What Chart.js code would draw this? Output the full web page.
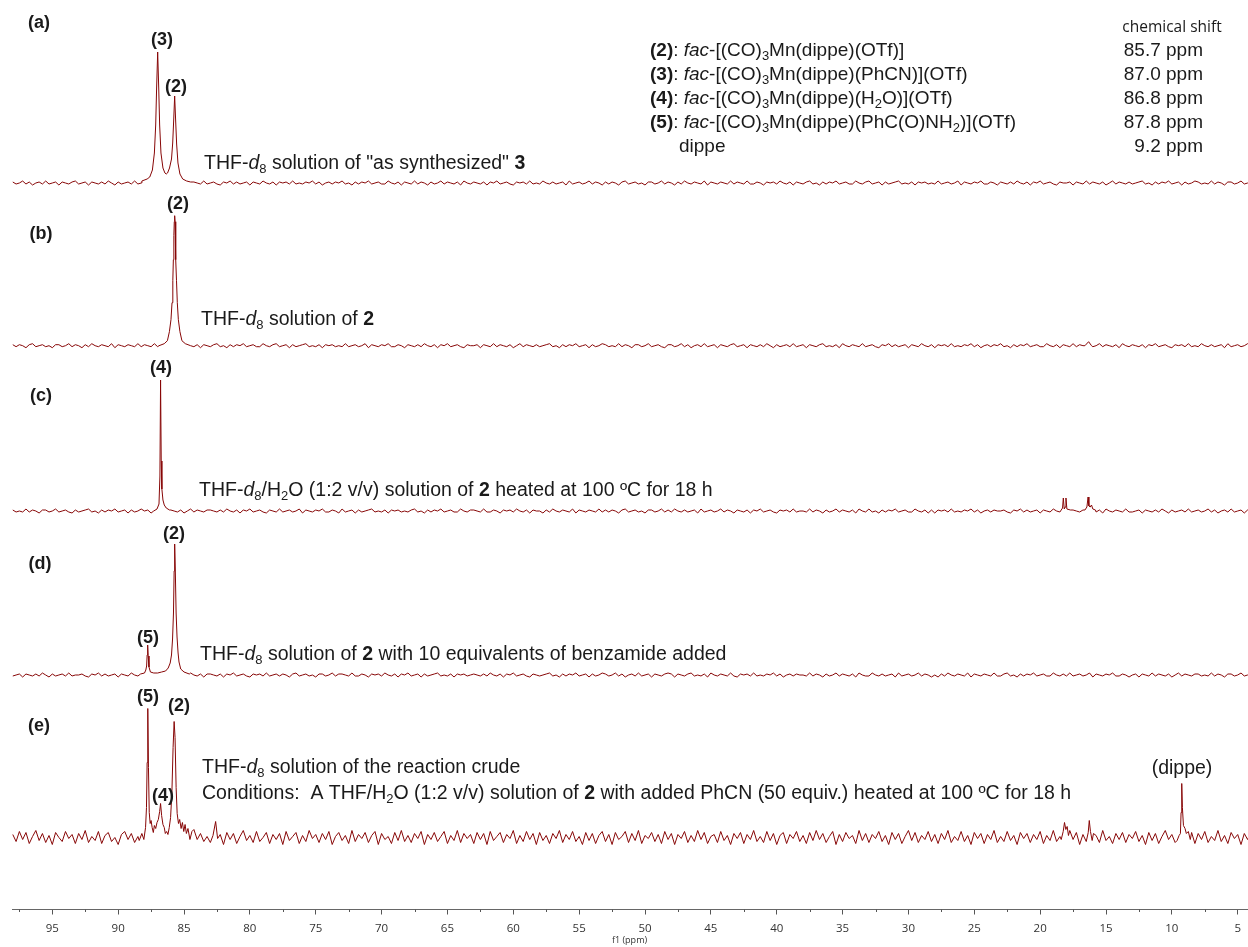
<!DOCTYPE html>
<html>
<head>
<meta charset="utf-8">
<script src="https://cdn.jsdelivr.net/npm/chart.js@4.4.1/dist/chart.umd.min.js"></script>
<style>
  html, body { margin: 0; padding: 0; background: #fff; }
  #wrap { width: 1248px; height: 947px; position: relative; }
</style>
</head>
<body>
<div id="wrap"><canvas id="nmrChart"></canvas></div>
<script>
// ppm grid of the baseline (noise) samples
const ppmStart = 98.0;
const ppmStep = 0.25;

const majorTicks = [95, 90, 85, 80, 75, 70, 65, 60, 55, 50, 45, 40, 35, 30, 25, 20, 15, 10, 5];
const minorTicks = [97.5, 92.5, 87.5, 82.5, 77.5, 72.5, 67.5, 62.5, 57.5, 52.5, 47.5, 42.5, 37.5, 32.5, 27.5, 22.5, 17.5, 12.5, 7.5];

// baseline noise (intensity units)
const noiseA = [
  1,-1,0,2,-1,1,-2,0,1,-1,2,-1,0,1,-2,1,0,-1,1,2,
  -1,0,1,-2,1,0,-1,1,-1,2,0,-2,1,-1,0,1,-1,2,-1,0,
  1,-2,1,0,-1,1,2,-1,0,-1,1,-2,2,0,-1,1,0,-1,2,-1,
  0,1,-1,-2,1,0,2,-1,1,-1,0,1,-2,1,0,-1,2,0,-1,1,
  -2,1,0,1,-1,2,-1,0,-1,1,0,2,-1,1,-2,0,1,-1,1,0,
  2,-1,0,-2,1,-1,1,0,2,-1,0,1,-1,-1,2,0,-1,1,-2,1,
  0,-1,2,-1,1,0,-2,1,-1,0,2,-1,1,0,-1,1,-2,2,0,-1,
  1,0,-1,1,-2,1,0,2,-1,0,1,-1,-2,1,0,1,-1,2,-1,0,
  -1,2,0,-1,1,-1,0,1,-2,2,-1,0,1,-1,0,2,-1,1,0,-2,
  1,-1,1,0,-2,1,2,-1,0,1,-1,0,-2,1,1,-1,0,2,-1,1,
  0,-2,1,-1,2,0,-1,1,0,-1,2,-2,1,0,-1,1,0,-1,2,-1,
  1,0,-1,2,-1,-1,1,0,-2,1,0,1,-1,2,0,-1,1,-2,1,0,
  -1,1,2,-1,0,-2,1,-1,1,0,2,-1,0,1,-1,-1,2,0,-1,1,
  2,-1,0,1,-2,1,-1,0,1,2,-1,0,-1,1,-2,1,0,1,-1,0,
  -1,2,-1,0,1,-1,0,2,-2,1,0,-1,1,0,2,-1,-1,1,0,-2,
  1,0,-1,1,-1,2,0,-1,1,-2,1,0,2,-1,0,1,-1,-2,1,0,
  0,1,-2,1,0,-1,2,-1,1,0,-1,1,-2,0,2,-1,1,0,-1,1,
  -1,0,1,2,-1,0,-2,1,-1,1,0,2,-1,0,1,-2,1,-1,0,2,
  1,-1,0,-1,2,-1,1,0,-2,1,1,-1,0,2,-1,0,1,-1,-2,1
];
const noiseB = [
  1,-1,1,0,-2,1,2,-1,0,1,-1,0,-2,1,1,-1,0,2,-1,1,
  0,-2,1,-1,2,0,-1,1,0,-1,2,-2,1,0,-1,1,0,-1,2,-1,
  1,0,-1,2,-1,-1,1,0,-2,1,0,1,-1,2,0,-1,1,-2,1,0,
  -1,1,2,-1,0,-2,1,-1,1,0,2,-1,0,1,-1,-1,2,0,-1,1,
  2,-1,0,1,-2,1,-1,0,1,2,-1,0,-1,1,-2,1,0,1,-1,0,
  -1,2,-1,0,1,-1,0,2,-2,1,0,-1,1,0,2,-1,-1,1,0,-2,
  1,0,-1,1,-1,2,0,-1,1,-2,1,0,2,-1,0,1,-1,-2,1,0,
  0,1,-2,1,0,-1,2,-1,1,0,-1,1,-2,0,2,-1,1,0,-1,1,
  -1,0,1,2,-1,0,-2,1,-1,1,0,2,-1,0,1,-2,1,-1,0,2,
  1,-1,0,-1,2,-1,1,0,-2,1,1,-1,0,2,-1,0,1,-1,-2,1,
  1,-1,0,2,-1,1,-2,0,1,-1,2,-1,0,1,-2,1,0,-1,1,2,
  -1,0,1,-2,1,0,-1,1,-1,2,0,-2,1,-1,0,1,-1,2,-1,0,
  1,-2,1,0,-1,1,2,-1,0,-1,1,-2,2,0,-1,1,0,-1,2,-1,
  0,1,-1,-2,1,0,2,-1,1,-1,0,1,-2,1,0,-1,2,0,-1,1,
  -2,1,0,1,-1,2,-1,0,-1,1,0,2,-1,1,-2,0,1,-1,1,0,
  2,-1,0,-2,1,-1,1,0,2,-1,0,1,-1,-1,2,0,-1,1,-2,1,
  0,-1,2,-1,1,0,-2,1,-1,0,2,-1,1,0,-1,1,-2,2,0,-1,
  1,0,-1,1,-2,1,0,2,-1,0,1,-1,-2,1,0,1,-1,2,-1,0,
  -1,2,0,-1,1,-1,0,1,-2,2,-1,0,1,-1,0,2,-1,1,0,-2
];
const noiseC = [
  1,-1,0,-1,2,-1,1,0,-2,1,1,-1,0,2,-1,0,1,-1,-2,1,
  -1,0,1,2,-1,0,-2,1,-1,1,0,2,-1,0,1,-2,1,-1,0,2,
  0,1,-2,1,0,-1,2,-1,1,0,-1,1,-2,0,2,-1,1,0,-1,1,
  1,0,-1,1,-1,2,0,-1,1,-2,1,0,2,-1,0,1,-1,-2,1,0,
  -1,2,-1,0,1,-1,0,2,-2,1,0,-1,1,0,2,-1,-1,1,0,-2,
  2,-1,0,1,-2,1,-1,0,1,2,-1,0,-1,1,-2,1,0,1,-1,0,
  -1,1,2,-1,0,-2,1,-1,1,0,2,-1,0,1,-1,-1,2,0,-1,1,
  1,0,-1,2,-1,-1,1,0,-2,1,0,1,-1,2,0,-1,1,-2,1,0,
  0,-2,1,-1,2,0,-1,1,0,-1,2,-2,1,0,-1,1,0,-1,2,-1,
  1,-1,1,0,-2,1,2,-1,0,1,-1,0,-2,1,1,-1,0,2,-1,1,
  -1,2,0,-1,1,-1,0,1,-2,2,-1,0,1,-1,0,2,-1,1,0,-2,
  1,0,-1,1,-2,1,0,2,-1,0,1,-1,-2,1,0,1,-1,2,-1,0,
  0,-1,2,-1,1,0,-2,1,-1,0,2,-1,1,0,-1,1,-2,2,0,-1,
  2,-1,0,-2,1,-1,1,0,2,-1,0,1,-1,-1,2,0,-1,1,-2,1,
  -2,1,0,1,-1,2,-1,0,-1,1,0,2,-1,1,-2,0,1,-1,1,0,
  0,1,-1,-2,1,0,2,-1,1,-1,0,1,-2,1,0,-1,2,0,-1,1,
  1,-2,1,0,-1,1,2,-1,0,-1,1,-2,2,0,-1,1,0,-1,2,-1,
  -1,0,1,-2,1,0,-1,1,-1,2,0,-2,1,-1,0,1,-1,2,-1,0,
  1,-1,0,2,-1,1,-2,0,1,-1,2,-1,0,1,-2,1,0,-1,1,2
];
const noiseD = [
  -1,0,1,-2,1,0,-1,1,-1,2,0,-2,1,-1,0,1,-1,2,-1,0,
  0,1,-1,-2,1,0,2,-1,1,-1,0,1,-2,1,0,-1,2,0,-1,1,
  2,-1,0,-2,1,-1,1,0,2,-1,0,1,-1,-1,2,0,-1,1,-2,1,
  1,0,-1,1,-2,1,0,2,-1,0,1,-1,-2,1,0,1,-1,2,-1,0,
  1,-1,1,0,-2,1,2,-1,0,1,-1,0,-2,1,1,-1,0,2,-1,1,
  1,0,-1,2,-1,-1,1,0,-2,1,0,1,-1,2,0,-1,1,-2,1,0,
  2,-1,0,1,-2,1,-1,0,1,2,-1,0,-1,1,-2,1,0,1,-1,0,
  1,0,-1,1,-1,2,0,-1,1,-2,1,0,2,-1,0,1,-1,-2,1,0,
  -1,0,1,2,-1,0,-2,1,-1,1,0,2,-1,0,1,-2,1,-1,0,2,
  1,-1,0,2,-1,1,-2,0,1,-1,2,-1,0,1,-2,1,0,-1,1,2,
  1,-2,1,0,-1,1,2,-1,0,-1,1,-2,2,0,-1,1,0,-1,2,-1,
  -2,1,0,1,-1,2,-1,0,-1,1,0,2,-1,1,-2,0,1,-1,1,0,
  0,-1,2,-1,1,0,-2,1,-1,0,2,-1,1,0,-1,1,-2,2,0,-1,
  -1,2,0,-1,1,-1,0,1,-2,2,-1,0,1,-1,0,2,-1,1,0,-2,
  0,-2,1,-1,2,0,-1,1,0,-1,2,-2,1,0,-1,1,0,-1,2,-1,
  -1,1,2,-1,0,-2,1,-1,1,0,2,-1,0,1,-1,-1,2,0,-1,1,
  -1,2,-1,0,1,-1,0,2,-2,1,0,-1,1,0,2,-1,-1,1,0,-2,
  0,1,-2,1,0,-1,2,-1,1,0,-1,1,-2,0,2,-1,1,0,-1,1,
  1,-1,0,-1,2,-1,1,0,-2,1,1,-1,0,2,-1,0,1,-1,-2,1
];
const noiseE = [
  3,-4,6,-2,5,-6,1,7,-3,4,-5,2,-7,5,0,-4,6,-1,3,-6,
  4,-2,7,-5,1,-3,6,-6,2,5,-4,0,-7,3,6,-2,4,-5,1,-3,
  7,-4,2,-6,5,-1,3,-7,4,0,-5,6,-3,2,-6,8,-2,4,-4,1,
  -5,6,-1,3,-7,5,-2,4,-6,1,7,-3,2,-5,6,-4,0,5,-6,3,
  -2,4,-7,6,-3,1,5,-6,2,-4,7,-1,3,-5,4,-2,6,-7,1,5,
  -3,2,-6,7,-4,3,-1,5,-5,2,6,-7,4,-2,1,-6,5,-3,7,-4,
  2,-5,4,-1,6,-7,3,-2,5,-4,1,6,-6,2,-3,7,-5,4,-1,3,
  -6,5,-2,4,-7,6,-3,1,5,-5,3,-1,7,-6,2,-4,6,-2,4,-7,
  5,-3,2,-6,4,-1,7,-5,3,-2,6,-4,1,-7,5,-3,4,-6,2,6,
  -4,3,-7,5,-2,1,6,-5,4,-3,7,-6,2,-1,5,-4,3,-6,6,-2,
  4,-7,3,-1,6,-5,2,-4,7,-2,5,-6,1,3,-5,6,-3,2,-7,4,
  -1,5,-6,3,-2,7,-4,1,-5,6,-3,4,-7,2,5,-6,3,-1,6,-4,
  2,-6,5,-3,7,-2,4,-5,1,6,-7,3,-4,5,-1,2,-6,7,-3,4,
  -5,3,-1,6,-4,2,-7,5,-2,4,-6,1,7,-3,5,-5,2,-2,6,-4,
  3,-6,4,-2,7,-5,1,-3,6,-4,2,-7,5,-1,4,-6,3,-2,7,-5,
  1,-4,6,-3,2,-7,5,-1,4,-5,3,-2,6,-6,2,-3,7,-4,1,5,
  -6,4,-2,5,-7,3,-1,6,-4,2,-5,7,-3,1,-6,4,-2,5,-5,3,
  -1,6,-4,2,-7,5,-3,4,-6,1,7,-2,3,-5,6,-4,2,-1,5,-6,
  4,-2,6,-5,1,-3,7,-4,2,-6,5,-1,3,-7,4,-2,6,-5,2,-3
];

const peaksA = [
  [[88.2,2],[87.8,4],[87.6,6],[87.4,13],[87.25,30],[87.15,58],[87.08,95],[87.0,131],[86.92,95],[86.85,58],
   [86.75,30],[86.6,15],[86.45,10],[86.35,9],[86.25,10],[86.1,15],[85.95,24],[85.86,40],[85.78,64],[85.71,87],
   [85.64,64],[85.56,39],[85.46,20],[85.31,9],[85.1,4],[84.8,2],[84.5,1]]
];
const peaksB = [
  [[86.9,0],[86.5,2],[86.26,5],[86.11,14],[85.99,26],[85.91,43],[85.85,65],[85.81,86],[85.77,110],[85.74,124],
   [85.71,130],[85.68,124],[85.65,110],[85.61,86],[85.57,65],[85.51,43],[85.43,26],[85.31,14],[85.16,5],[84.9,2],
   [84.5,0]],
  [[16.6,0],[16.32,4],[16.1,0]]
];
const peaksC = [
  [[87.3,0],[87.05,2],[86.9,7],[86.83,35],[86.78,131],[86.73,50],[86.68,22],[86.6,11],[86.5,6],[86.35,3],[86.1,1]],
  [[18.45,0],[18.3,3],[18.24,13],[18.17,2],[18.1,4],[18.04,13],[17.97,2],[17.7,1]],
  [[16.6,1],[16.45,4],[16.36,14],[16.3,5],[16.2,4],[16.1,6],[16.0,2],[15.8,1]]
];
const peaksD = [
  [[88.3,1],[88.0,2],[87.9,5],[87.84,9],[87.8,20],[87.76,30],[87.72,19],[87.66,8],[87.55,3],[87.3,2],
   [87.0,2],[86.7,3],[86.4,4],[86.2,7],[86.05,12],[85.95,20],[85.87,36],[85.8,62],[85.75,104],[85.71,131],
   [85.66,104],[85.6,62],[85.53,38],[85.45,22],[85.38,13],[85.25,6],[85.0,3],[84.6,1]]
];
const peaksE = [
  [[88.4,-3],[88.2,4],[88.05,-2],[87.92,10],[87.85,30],[87.8,75],[87.75,129],[87.7,70],[87.64,25],[87.57,14],
   [87.5,17],[87.42,10],[87.33,5],[87.25,12],[87.15,9],[87.05,15],[86.95,18],[86.85,26],[86.78,34],[86.7,22],
   [86.6,13],[86.5,10],[86.42,4],[86.32,6],[86.22,3],[86.12,10],[86.02,20],[85.92,45],[85.83,90],[85.75,116],
   [85.68,100],[85.6,50],[85.52,24],[85.42,14],[85.33,18],[85.22,9],[85.12,15],[85.02,6],[84.92,13],[84.82,4],
   [84.7,9],[84.55,-2],[84.4,6]],
  [[82.8,2],[82.6,16],[82.45,-1]],
  [[18.4,-2],[18.25,6],[18.15,15],[18.05,8],[17.95,11],[17.85,2],[17.75,7]],
  [[16.5,-4],[16.35,5],[16.27,17],[16.18,6],[16.05,-3],[15.95,4]],
  [[9.6,-3],[9.45,2],[9.35,4],[9.3,25],[9.25,54],[9.2,30],[9.12,12],[9.0,9],[8.9,4],[8.75,6],[8.6,-2]]
];

const panelLabels = ['(a)', '(b)', '(c)', '(d)', '(e)'];
const descriptions = [
  'THF-_d_~8~ solution of "as synthesized" *3*',
  'THF-_d_~8~ solution of *2*',
  'THF-_d_~8~/H~2~O (1:2 v/v) solution of *2* heated at 100 \u00baC for 18 h',
  'THF-_d_~8~ solution of *2* with 10 equivalents of benzamide added',
  'THF-_d_~8~ solution of the reaction crude',
  'Conditions:  A THF/H~2~O (1:2 v/v) solution of *2* with added PhCN (50 equiv.) heated at 100 \u00baC for 18 h'
];
const compounds = [
  '*(2)*: _fac_-[(CO)~3~Mn(dippe)(OTf)]',
  '*(3)*: _fac_-[(CO)~3~Mn(dippe)(PhCN)](OTf)',
  '*(4)*: _fac_-[(CO)~3~Mn(dippe)(H~2~O)](OTf)',
  '*(5)*: _fac_-[(CO)~3~Mn(dippe)(PhC(O)NH~2~)](OTf)',
  'dippe'
];
const shifts = ['85.7 ppm', '87.0 ppm', '86.8 ppm', '87.8 ppm', '9.2 ppm'];

const lineColor = 'rgb(135, 6, 6)';

function buildSeries(noise, groups) {
  const pts = [];
  noise.forEach(function(v, i) {
    const x = ppmStart - i * ppmStep;
    const inside = groups.some(g => x <= g[0][0] && x >= g[g.length - 1][0]);
    if (!inside) pts.push({x: x, y: v});
  });
  groups.forEach(g => g.forEach(p => pts.push({x: p[0], y: p[1]})));
  pts.sort((a, b) => b.x - a.x);
  return pts;
}

const traces = [
  {axis: 'yA', data: buildSeries(noiseA, peaksA)},
  {axis: 'yB', data: buildSeries(noiseB, peaksB)},
  {axis: 'yC', data: buildSeries(noiseC, peaksC)},
  {axis: 'yD', data: buildSeries(noiseD, peaksD)},
  {axis: 'yE', data: buildSeries(noiseE, peaksE)}
];

// *bold*, _italic_, ~subscript~
function drawRich(ctx, str, x, yMid, size, align, family) {
  const parts = str.split(/(\*[^*]+\*|_[^_]+_|~[^~]+~)/).filter(s => s);
  const runs = parts.map(function(p) {
    let style = '', t = p, sub = false;
    if (p[0] === '*') { style = 'bold '; t = p.slice(1, -1); }
    else if (p[0] === '_') { style = 'italic '; t = p.slice(1, -1); }
    else if (p[0] === '~') { sub = true; t = p.slice(1, -1); }
    const fs = sub ? Math.round(size * 0.68) : size;
    const font = style + fs + 'px ' + family;
    ctx.font = font;
    return {t: t, font: font, sub: sub, w: ctx.measureText(t).width};
  });
  const total = runs.reduce((s, r) => s + r.w, 0);
  let cx = align === 'center' ? x - total / 2 : align === 'right' ? x - total : x;
  const base = yMid + size * 0.36;
  ctx.textAlign = 'left';
  ctx.textBaseline = 'alphabetic';
  runs.forEach(function(r) {
    ctx.font = r.font;
    ctx.fillText(r.t, cx, base + (r.sub ? size * 0.22 : 0));
    cx += r.w;
  });
}

const annotations = {
  id: 'annotations',
  afterDraw: function(chart) {
    const ctx = chart.ctx;
    const xs = chart.scales.x;
    ctx.save();
    // minor ticks
    ctx.strokeStyle = '#555';
    ctx.lineWidth = 1;
    minorTicks.forEach(function(v) {
      const px = Math.round(xs.getPixelForValue(v)) + 0.5;
      ctx.beginPath();
      ctx.moveTo(px, xs.top);
      ctx.lineTo(px, xs.top + 2.5);
      ctx.stroke();
    });

    const sans = '"Liberation Sans", Arial, sans-serif';
    ctx.fillStyle = '#1a1a1a';
    const panelPos = [[39, 22], [41, 233], [41, 395], [40, 563], [39, 725]];
    panelLabels.forEach((t, i) => drawRich(ctx, '*' + t + '*', panelPos[i][0], panelPos[i][1], 18, 'center', sans));

    const peakTags = [['(3)', 162, 39], ['(2)', 176, 86], ['(2)', 178, 203], ['(4)', 161, 367],
      ['(2)', 174, 533], ['(5)', 148, 637], ['(5)', 148, 696], ['(2)', 179, 705], ['(4)', 163, 795]];
    peakTags.forEach(p => drawRich(ctx, '*' + p[0] + '*', p[1], p[2], 18, 'center', sans));

    const descPos = [[204, 162], [201, 318], [199, 489], [200, 653], [202, 766], [202, 792]];
    descriptions.forEach((t, i) => drawRich(ctx, t, descPos[i][0], descPos[i][1], 19.5, 'left', sans));
    drawRich(ctx, '(dippe)', 1182, 767, 19.5, 'center', sans);

    // compound table
    drawRich(ctx, 'chemical shift', 1172, 26, 15.5, 'center', '"Open Sans", sans-serif');
    compounds.forEach(function(t, i) {
      const y = 49 + i * 24;
      drawRich(ctx, t, i === 4 ? 679 : 650, y, 19, 'left', sans);
      drawRich(ctx, shifts[i], 1203, y, 19, 'right', sans);
    });
    ctx.restore();
  }
};

function stackAxis(weight, min, max) {
  return {
    type: 'linear',
    position: 'left',
    stack: 'spectra',
    stackWeight: 1,
    weight: weight,
    min: min,
    max: max,
    display: false
  };
}

const ctx = document.getElementById('nmrChart').getContext('2d');
new Chart(ctx, {
  type: 'line',
  data: {
    datasets: traces.map(t => ({
      data: t.data,
      yAxisID: t.axis,
      xAxisID: 'x',
      borderColor: lineColor,
      borderWidth: 1,
      pointRadius: 0,
      tension: 0,
      clip: false,
      parsing: false
    }))
  },
  options: {
    responsive: true,
    maintainAspectRatio: false,
    animation: false,
    events: [],
    layout: { padding: { top: 89.5, left: 12, right: 0, bottom: 0 } },
    plugins: { legend: { display: false }, tooltip: { enabled: false } },
    scales: {
      x: {
        type: 'linear',
        reverse: true,
        min: 4.29,
        max: 98.06,
        afterBuildTicks: function(scale) {
          scale.ticks = majorTicks.map(v => ({value: v}));
        },
        afterFit: function(scale) { scale.height = 37.5; },
        grid: { drawOnChartArea: false, tickLength: 5, color: '#555' },
        border: { color: '#666', width: 1 },
        ticks: {
          color: '#333',
          padding: 7,
          maxRotation: 0,
          autoSkip: false,
          font: { family: '"Open Sans", sans-serif', size: 11.5 }
        },
        title: {
          display: true,
          text: 'f1 (ppm)',
          color: '#333',
          padding: { top: 0, bottom: 1 },
          font: { family: '"Open Sans", sans-serif', size: 9 }
        }
      },
      yA: stackAxis(5, -70.5, 93.5),
      yB: stackAxis(4, -71.8, 92.2),
      yC: stackAxis(3, -70.5, 93.5),
      yD: stackAxis(2, -70.5, 93.5),
      yE: stackAxis(1, -72, 92)
    }
  },
  plugins: [annotations]
});
</script>
</body>
</html>
